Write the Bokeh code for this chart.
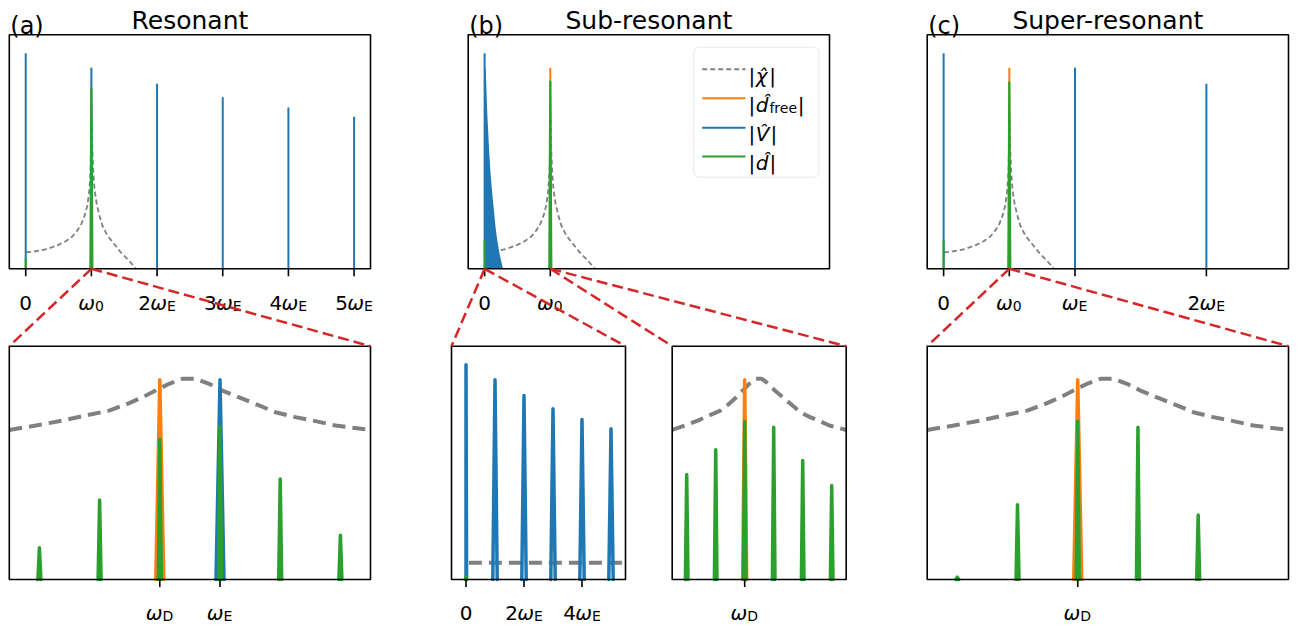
from bokeh.plotting import figure
from bokeh.models import Range1d, BoxAnnotation
from bokeh.core.properties import value
from bokeh.embed import file_html
from bokeh.resources import INLINE

# ============================ DATA ============================
# Top row: x in units of omega_0, y = relative height inside the panel (0..1)
chi_top_x = [0.005, 0.152, 0.330, 0.482, 0.609, 0.711, 0.787, 0.848, 0.898, 0.939, 0.963,
             0.979, 0.989, 0.994, 1.0, 1.015, 1.030, 1.050, 1.081, 1.116, 1.167, 1.244,
             1.344, 1.446, 1.572, 1.680]
chi_top_y = [0.070, 0.075, 0.085, 0.100, 0.118, 0.138, 0.164, 0.192, 0.228, 0.271, 0.321,
             0.377, 0.434, 0.506, 0.700, 0.506, 0.407, 0.335, 0.278, 0.235, 0.185, 0.142,
             0.107, 0.071, 0.035, 0.0]

res_V_x = [0, 1, 2, 3, 4, 5]
res_V_y = [0.921, 0.859, 0.791, 0.733, 0.689, 0.650]
res_dfree_x = [1]
res_dfree_y = [0.859]
res_d_x = [0, 1]
res_d_y = [0.047, 0.772]

sub_V_x = [0]
sub_V_y = [0.921]
sub_comb_x = [0.0, 0.015, 0.041, 0.066, 0.091, 0.117, 0.142, 0.167, 0.193, 0.218, 0.244, 0.279]
sub_comb_y = [0.859, 0.859, 0.662, 0.519, 0.405, 0.319, 0.248, 0.177, 0.121, 0.078, 0.043, 0.0]
sub_dfree_x = [1]
sub_dfree_y = [0.859]
sub_d_x = [0, 1]
sub_d_y = [0.124, 0.800]

sup_V_x = [0, 2, 4]
sup_V_y = [0.921, 0.859, 0.791]
sup_dfree_x = [1]
sup_dfree_y = [0.859]
sup_d_x = [0, 1]
sup_d_y = [0.125, 0.797]

# Bottom row (zoomed views): x in units of the line spacing, centred on omega_D (or 0)
zoom_chi_x = [-2.5, -2.06, -1.62, -1.23, -0.84, -0.565, -0.29, -0.07, 0.154, 0.375, 0.595,
              0.818, 1.04, 1.37, 1.65, 1.92, 2.25, 2.585, 2.92, 3.5]
zoom_chi_y = [0.641, 0.660, 0.681, 0.703, 0.724, 0.750, 0.781, 0.810, 0.839, 0.860, 0.860,
              0.839, 0.810, 0.775, 0.746, 0.717, 0.696, 0.679, 0.660, 0.641]

res_z_dfree_x = [0]
res_z_dfree_y = [0.856]
res_z_V_x = [1]
res_z_V_y = [0.856]
res_z_d_x = [-2, -1, 0, 1, 2, 3]
res_z_d_y = [0.136, 0.341, 0.600, 0.656, 0.431, 0.190]

subV_z_V_x = [0, 1, 2, 3, 4, 5]
subV_z_V_y = [0.920, 0.856, 0.789, 0.732, 0.686, 0.646]
subV_z_chi_x = [0.1, 5.5]
subV_z_chi_y = [0.072, 0.072]
subV_z_d_x = [0]
subV_z_d_y = [0.012]

subD_z_dfree_x = [0]
subD_z_dfree_y = [0.856]
subD_z_d_x = [-2, -1, 0, 1, 2, 3]
subD_z_d_y = [0.450, 0.556, 0.677, 0.653, 0.510, 0.403]

sup_z_dfree_x = [0]
sup_z_dfree_y = [0.856]
sup_z_d_x = [-2, -1, 0, 1, 2]
sup_z_d_y = [0.010, 0.320, 0.677, 0.653, 0.276]

# tick labels: (prefix, symbol, subscript)
res_ticks = [0, 1, 2, 3, 4, 5]
res_labels = [("0", "", ""), ("", "ω", "0"), ("2", "ω", "E"), ("3", "ω", "E"), ("4", "ω", "E"), ("5", "ω", "E")]
sub_ticks = [0, 1]
sub_labels = [("0", "", ""), ("", "ω", "0")]
sup_ticks = [0, 1, 2, 4]
sup_labels = [("0", "", ""), ("", "ω", "0"), ("", "ω", "E"), ("2", "ω", "E")]
res_z_ticks = [0, 1]
res_z_labels = [("", "ω", "D"), ("", "ω", "E")]
subV_z_ticks = [0, 2, 4]
subV_z_labels = [("0", "", ""), ("2", "ω", "E"), ("4", "ω", "E")]
subD_z_ticks = [0]
subD_z_labels = [("", "ω", "D")]
sup_z_ticks = [0]
sup_z_labels = [("", "ω", "D")]

titles = ["Resonant", "Sub-resonant", "Super-resonant"]
tags = ["(a)", "(b)", "(c)"]
legend_symbols = ["χ\u0302", "d\u0302", "V\u0302", "d\u0302"]
legend_subs = ["", "free", "", ""]

# ============================ STYLE / LAYOUT ============================
C_BLUE, C_ORANGE, C_GREEN = "#1f77b4", "#ff7f0e", "#2ca02c"
C_GREY, C_RED = "#808080", "#d62728"
FONT = value("DejaVu Sans")
FS_TICK, FS_SUB, FS_TITLE, FS_TAG, FS_LEG, FS_LEGSUB = 20, 14, 25, 24, 20, 14
W_DIGIT = 0.636 * FS_TICK
W_OMEGA = 0.80 * FS_TICK
W_SUBS = {"0": 0.636 * FS_SUB, "E": 0.632 * FS_SUB, "D": 0.770 * FS_SUB}
# advance widths (em) used to lay out the legend labels
ADV_BAR = 0.337
ADV_SYM = [0.62, 0.635, 0.684, 0.635]
ADV_FREE = 1.993

W, H = 1300, 624
OFF = 0  # canvas origin in page pixels

p = figure(width=W, height=H, x_range=Range1d(0, W), y_range=Range1d(H, 0),
           x_axis_type=None, y_axis_type=None, output_backend="svg",
           toolbar_location=None, min_border=0, outline_line_color=None)
p.background_fill_color = "white"
p.border_fill_color = "white"

xr, yr = {}, {}


def make_panel(name, L, R, T, B, xlim, ylim=(0.0, 1.0)):
    Lc, Rc, Tc, Bc = L - OFF, R - OFF, T - OFF, B - OFF
    kx = (xlim[1] - xlim[0]) / (Rc - Lc)
    xr[name] = Range1d(xlim[0] - Lc * kx, xlim[1] + (W - Rc) * kx)
    ky = (ylim[1] - ylim[0]) / (Bc - Tc)
    yr[name] = Range1d(ylim[0] - (H - Bc) * ky, ylim[1] + Tc * ky)
    return dict(name=name, L=Lc, R=Rc, T=Tc, B=Bc, xlim=xlim, ylim=ylim,
                ppu=(Rc - Lc) / (xlim[1] - xlim[0]), ppy=(Bc - Tc) / (ylim[1] - ylim[0]))


TOP_T, TOP_B = 34.3, 268.3
BOT_T, BOT_B = 345.7, 579.0
XL_TOP = (-0.25, 5.25)
XL_Z = (-2.5, 3.5)
TA = make_panel("ta", 8.8, 370.0, TOP_T, TOP_B, XL_TOP)
TB = make_panel("tb", 467.7, 829.0, TOP_T, TOP_B, XL_TOP)
TC = make_panel("tc", 926.7, 1288.0, TOP_T, TOP_B, XL_TOP)
BA = make_panel("ba", 8.8, 370.0, BOT_T, BOT_B, XL_Z)
BB1 = make_panel("bb1", 451.0, 625.0, BOT_T, BOT_B, (-0.5, 5.5))
BB2 = make_panel("bb2", 671.7, 845.7, BOT_T, BOT_B, XL_Z)
BC = make_panel("bc", 926.7, 1288.0, BOT_T, BOT_B, XL_Z)
p.extra_x_ranges = xr
p.extra_y_ranges = yr


def kw(pan):
    return dict(x_range_name=pan["name"], y_range_name=pan["name"])


def vlines(pan, xs, ys, color, width=1.8):
    p.segment(x0=xs, y0=[0] * len(xs), x1=xs, y1=ys, line_color=color, line_width=width, **kw(pan))


def peaks(pan, xs, ys, half_px, color, width=3.5, left_only=False):
    w = half_px / pan["ppu"]
    pxs, pys = [], []
    for x, y in zip(xs, ys):
        if left_only:
            pxs.append([x, x, x + w]); pys.append([0, y, 0])
        else:
            pxs.append([x - w, x, x + w]); pys.append([0, y, 0])
    p.multi_line(xs=pxs, ys=pys, line_color=color, line_width=width,
                 line_join="round", line_cap="round", **kw(pan))


def chi(pan, xs, ys, width, dash):
    p.line(x=xs, y=ys, line_color=C_GREY, line_width=width, line_dash=dash, **kw(pan))


def add_text(x, y, text, size, align="left", italic=False, xo=0, pan=None, baseline="alphabetic"):
    extra = kw(pan) if pan else {}
    p.text(x=[x], y=[y], text=[text], text_font=FONT, text_font_size=f"{size}px",
           text_align=align, text_baseline=baseline,
           text_font_style="italic" if italic else "normal", x_offset=xo,
           text_color="black", **extra)


def frame_and_ticks(pan, ticks, labels, gap_px):
    xl = pan["xlim"]
    p.quad(left=[xl[0]], right=[xl[1]], bottom=[0], top=[1], fill_color=None,
           line_color="black", line_width=1.6, **kw(pan))
    tl = 7.5 / pan["ppy"]
    p.segment(x0=ticks, y0=[0] * len(ticks), x1=ticks, y1=[-tl] * len(ticks),
              line_color="black", line_width=1.6, **kw(pan))
    yb = -gap_px / pan["ppy"]
    ys = -(gap_px + 3) / pan["ppy"]
    for t, (pre, sym, sub) in zip(ticks, labels):
        if not sym:
            add_text(t, yb, pre, FS_TICK, align="center", pan=pan)
            continue
        wp = len(pre) * W_DIGIT
        a = (wp + W_OMEGA - W_SUBS[sub]) / 2
        if pre:
            add_text(t, yb, pre, FS_TICK, align="right", xo=a - W_OMEGA, pan=pan)
        add_text(t, yb, sym, FS_TICK, align="right", italic=True, xo=a, pan=pan)
        add_text(t, ys, sub, FS_SUB, align="left", xo=a, pan=pan)


# ---------------- top row ----------------
for pan in (TA, TB, TC):
    chi(pan, chi_top_x, chi_top_y, 1.8, "5 3")

vlines(TA, res_dfree_x, res_dfree_y, C_ORANGE, 1.2)
vlines(TA, res_V_x, res_V_y, C_BLUE, 2)
vlines(TA, res_d_x[:1], res_d_y[:1], C_GREEN, 2)
peaks(TA, res_d_x[1:], res_d_y[1:], 1.0, C_GREEN, 2.2)

vlines(TB, sub_dfree_x, sub_dfree_y, C_ORANGE, 2)
p.varea(x=sub_comb_x, y1=[0] * len(sub_comb_x), y2=sub_comb_y, fill_color=C_BLUE, **kw(TB))
vlines(TB, sub_V_x, sub_V_y, C_BLUE, 2)
vlines(TB, sub_d_x[:1], sub_d_y[:1], C_GREEN, 2)
peaks(TB, sub_d_x[1:], sub_d_y[1:], 1.0, C_GREEN, 2.2)

vlines(TC, sup_dfree_x, sup_dfree_y, C_ORANGE, 2)
vlines(TC, sup_V_x, sup_V_y, C_BLUE, 2)
vlines(TC, sup_d_x[:1], sup_d_y[:1], C_GREEN, 2)
peaks(TC, sup_d_x[1:], sup_d_y[1:], 1.0, C_GREEN, 2.2)

frame_and_ticks(TA, res_ticks, res_labels, 34)
frame_and_ticks(TB, sub_ticks, sub_labels, 34)
frame_and_ticks(TC, sup_ticks, sup_labels, 34)

# ---------------- bottom row ----------------
chi(BA, zoom_chi_x, zoom_chi_y, 4, "13 7")
peaks(BA, res_z_dfree_x, res_z_dfree_y, 4.0, C_ORANGE)
peaks(BA, res_z_V_x, res_z_V_y, 4.0, C_BLUE)
peaks(BA, res_z_d_x, res_z_d_y, 1.5, C_GREEN)

chi(BB1, subV_z_chi_x, subV_z_chi_y, 4, "13 7")
peaks(BB1, subV_z_V_x[:1], subV_z_V_y[:1], 0.6, C_BLUE, left_only=True)
peaks(BB1, subV_z_V_x[1:], subV_z_V_y[1:], 2.2, C_BLUE)
peaks(BB1, subV_z_d_x, subV_z_d_y, 0.6, C_GREEN)

chi(BB2, zoom_chi_x, zoom_chi_y, 4, "13 7")
peaks(BB2, subD_z_dfree_x, subD_z_dfree_y, 2.0, C_ORANGE)
peaks(BB2, subD_z_d_x, subD_z_d_y, 1.3, C_GREEN)

chi(BC, zoom_chi_x, zoom_chi_y, 4, "13 7")
peaks(BC, sup_z_dfree_x, sup_z_dfree_y, 4.0, C_ORANGE)
peaks(BC, sup_z_d_x, sup_z_d_y, 1.5, C_GREEN)

frame_and_ticks(BA, res_z_ticks, res_z_labels, 33)
frame_and_ticks(BB1, subV_z_ticks, subV_z_labels, 33)
frame_and_ticks(BB2, subD_z_ticks, subD_z_labels, 33)
frame_and_ticks(BC, sup_z_ticks, sup_z_labels, 33)

# ---------------- titles ----------------
for pan, title, tag in zip((TA, TB, TC), titles, tags):
    add_text((pan["L"] + pan["R"]) / 2, 19.8 - OFF, title, FS_TITLE, align="center")
    add_text(pan["L"] + 1.0, 25.0 - OFF, tag, FS_TAG, align="left")

# ---------------- legend (in panel b) ----------------
box_kw = dict(left=693.3 - OFF, right=818.3 - OFF, top=46.7 - OFF, bottom=176.7 - OFF,
              fill_color="white", fill_alpha=0.8, line_color="#cccccc", line_width=1.5,
              level="underlay")
try:
    leg_box = BoxAnnotation(border_radius=5, **box_kw)
except Exception:
    leg_box = BoxAnnotation(**box_kw)
p.add_layout(leg_box)

row_y = [68.7, 97.7, 127.3, 156.0]
row_colors = [C_GREY, C_ORANGE, C_BLUE, C_GREEN]
for ry, col, sym, sub, adv in zip(row_y, row_colors, legend_symbols, legend_subs, ADV_SYM):
    ry -= OFF
    p.line(x=[701.7 - OFF, 745.0 - OFF], y=[ry, ry], line_color=col, line_width=2,
           line_dash="5 3" if col == C_GREY else "solid")
    bl = ry + 6.5
    x0 = 748.0 - OFF
    add_text(x0, bl, "|", FS_LEG)
    xs = x0 + ADV_BAR * FS_LEG + 0.5
    add_text(xs, bl, sym, FS_LEG, italic=True)
    xe = xs + adv * FS_LEG + 1.0
    if sub:
        add_text(xe, bl + 3, sub, FS_LEGSUB)
        xe += ADV_FREE * FS_LEGSUB + 0.5
    add_text(xe, bl, "|", FS_LEG)

# ---------------- connectors ----------------
def px_x(pan, x):
    return pan["L"] + (x - pan["xlim"][0]) * pan["ppu"]


cx0, cy0, cx1, cy1 = [], [], [], []
for top, t, bot in ((TA, 1, BA), (TB, 0, BB1), (TB, 1, BB2), (TC, 1, BC)):
    for corner in (bot["L"], bot["R"]):
        cx0.append(px_x(top, t)); cy0.append(top["B"])
        cx1.append(corner); cy1.append(bot["T"])
p.segment(x0=cx0, y0=cy0, x1=cx1, y1=cy1, line_color=C_RED, line_width=2.5, line_dash="11 5")

open("out.html", "w").write(file_html(p, INLINE))
